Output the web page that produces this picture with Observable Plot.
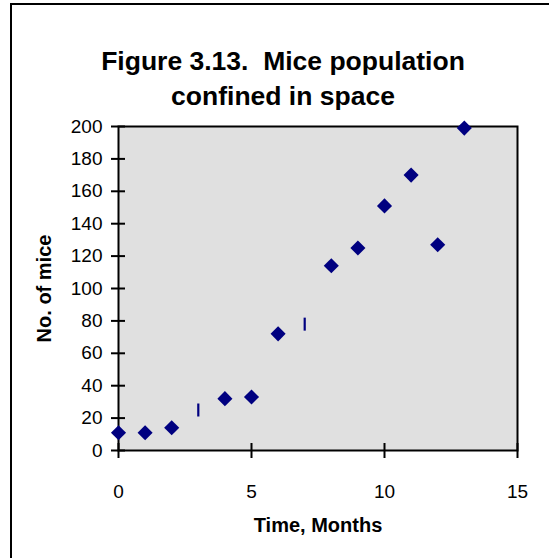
<!DOCTYPE html>
<html>
<head>
<meta charset="utf-8">
<script src="https://cdn.jsdelivr.net/npm/d3@7"></script>
<script src="https://cdn.jsdelivr.net/npm/@observablehq/plot@0.6"></script>
<style>
  html, body { margin: 0; padding: 0; background: #fff; overflow: hidden; }
  #wrap { position: relative; width: 549px; height: 558px; overflow: hidden; font-family: "Liberation Sans", Arial, sans-serif; }
  #border { position: absolute; left: 10px; top: 3px; width: 600px; height: 600px; border: 2px solid #000; box-sizing: border-box; }
  #title { position: absolute; left: 10px; width: 546px; top: 44px; text-align: center; font-weight: bold; font-size: 26.5px; line-height: 35px; color: #000; white-space: nowrap; }
  #chart { position: absolute; left: 0; top: 0; }
</style>
</head>
<body>
<div id="wrap">
  <div id="border"></div>
  <div id="chart"></div>
  <div id="title">Figure 3.13.&nbsp; Mice population<br>confined in space</div>
</div>
<script>
const months = [0, 1, 2, 3, 4, 5, 6, 7, 8, 9, 10, 11, 12, 13];
const mice = [11, 11, 14, 25, 32, 33, 72, 78, 114, 125, 151, 170, 127, 199];
const thinMarkerMonths = [3, 7];
const xTicks = [0, 5, 10, 15];
const yTicks = [0, 20, 40, 60, 80, 100, 120, 140, 160, 180, 200];
const xLabel = "Time, Months";
const yLabel = "No. of mice";

const data = months.map((m, i) => ({month: m, mice: mice[i], thin: thinMarkerMonths.includes(m)}));

const vbar = { draw(ctx) { ctx.moveTo(0, -6.5); ctx.lineTo(0, 6.5); } };

const chart = Plot.plot({
  width: 549,
  height: 558,
  marginLeft: 118,
  marginRight: 32,
  marginTop: 126,
  marginBottom: 108,
  style: { fontFamily: "'Liberation Sans', Arial, sans-serif", fontSize: "19px", color: "#000", background: "transparent" },
  x: { domain: [0, 15] },
  y: { domain: [0, 200] },
  marks: [
    Plot.frame({ fill: "#e0e0e0", stroke: null }),
    Plot.frame({ stroke: "#000", strokeWidth: 2 }),
    Plot.axisX({ ticks: xTicks, tickSize: 8, tickPadding: 26, strokeWidth: 2, label: null, fontSize: 19 }),
    Plot.axisX({ ticks: xTicks, tickSize: -7, tickFormat: () => "", strokeWidth: 2, label: null }),
    Plot.axisY({ ticks: yTicks, tickSize: 7, tickPadding: 9, strokeWidth: 2, label: null, fontSize: 19 }),
    Plot.axisY({ ticks: yTicks, tickSize: -7, tickFormat: () => "", strokeWidth: 2, label: null }),
    Plot.dot(data.filter(d => !d.thin), { x: "month", y: "mice", symbol: "diamond2", r: 6.8, fill: "#000080", stroke: null }),
    Plot.dot(data.filter(d => d.thin), { x: "month", y: "mice", symbol: vbar, r: 6, stroke: "#000080", strokeWidth: 2.2, fill: "none" }),
    Plot.text([xLabel], { frameAnchor: "bottom", dy: 75, lineAnchor: "middle", textAnchor: "middle", fontWeight: "bold", fontSize: 20, fill: "#000" }),
    Plot.text([yLabel], { frameAnchor: "left", dx: -74, rotate: -90, lineAnchor: "middle", textAnchor: "middle", fontWeight: "bold", fontSize: 20, fill: "#000" })
  ]
});
document.getElementById("chart").appendChild(chart);
</script>
</body>
</html>
